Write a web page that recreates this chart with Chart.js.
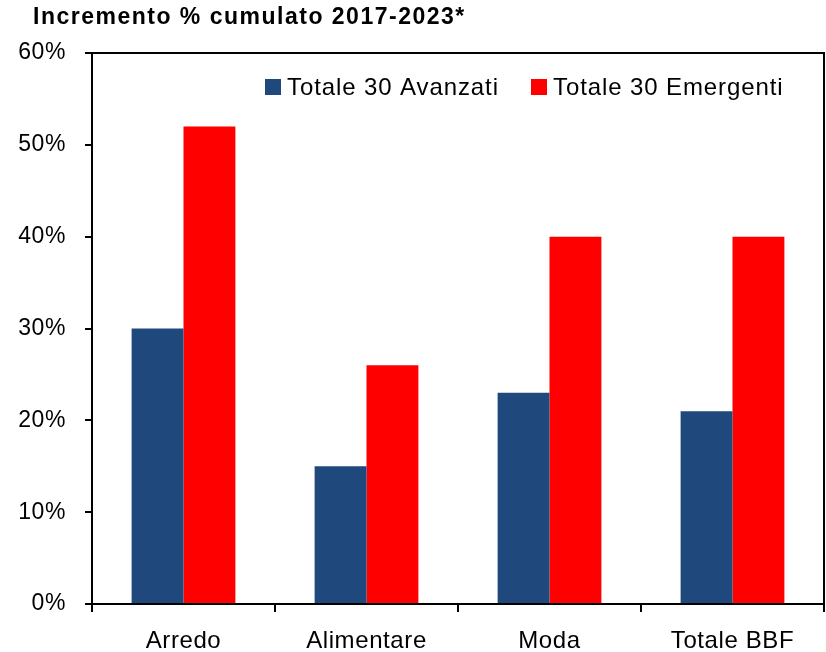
<!DOCTYPE html>
<html>
<head>
<meta charset="utf-8">
<script src="https://cdn.jsdelivr.net/npm/chart.js@4.4.1/dist/chart.umd.min.js"></script>
<style>
  html, body { margin: 0; padding: 0; background: #fff; }
  #wrap { width: 826px; height: 652px; }
</style>
</head>
<body>
<div id="wrap"><canvas id="chart" width="826" height="652"></canvas></div>
<script>
// data
var categories = ['Arredo', 'Alimentare', 'Moda', 'Totale BBF'];
var avanzati = [30, 15, 23, 21];
var emergenti = [52, 26, 40, 40];
var seriesNames = ['Totale 30 Avanzati', 'Totale 30 Emergenti'];
var seriesColors = ['#1f497d', '#ff0000'];
var titleText = 'Incremento % cumulato 2017-2023*';

var FONT = "'Liberation Sans', Arial, sans-serif";

// slightly wider letters, like the original export
var spacing = {
  id: 'spacing',
  beforeInit: function (chart) { chart.ctx.letterSpacing = '0.6px'; },
  beforeDraw: function (chart) { chart.ctx.letterSpacing = '0.6px'; }
};

// title, frame and in-plot legend
var extras = {
  id: 'extras',
  afterDraw: function (chart) {
    var ctx = chart.ctx, a = chart.chartArea;
    ctx.save();
    // top + right border of the plot box
    ctx.strokeStyle = '#000';
    ctx.lineWidth = 2;
    ctx.beginPath();
    ctx.moveTo(a.left, a.top);
    ctx.lineTo(a.right, a.top);
    ctx.lineTo(a.right, a.bottom);
    ctx.stroke();
    // title
    ctx.fillStyle = '#000';
    ctx.font = 'bold 23px ' + FONT;
    ctx.letterSpacing = '1.5px';
    ctx.textAlign = 'left';
    ctx.textBaseline = 'alphabetic';
    ctx.fillText(titleText, 33, 24);
    // legend
    var items = chart.data.datasets;
    var xs = [265, 531];
    ctx.font = '24px ' + FONT;
    ctx.letterSpacing = '0.9px';
    for (var i = 0; i < items.length; i++) {
      ctx.fillStyle = items[i].backgroundColor;
      ctx.fillRect(xs[i], 79, 16, 16);
      ctx.fillStyle = '#000';
      ctx.fillText(items[i].label, xs[i] + 22, 95);
    }
    ctx.restore();
  }
};

new Chart(document.getElementById('chart'), {
  type: 'bar',
  data: {
    labels: categories,
    datasets: [
      { label: seriesNames[0], data: avanzati, backgroundColor: seriesColors[0] },
      { label: seriesNames[1], data: emergenti, backgroundColor: seriesColors[1] }
    ]
  },
  options: {
    responsive: false,
    animation: false,
    devicePixelRatio: 1,
    layout: { padding: { top: 53, right: 2, left: 0, bottom: 0 } },
    datasets: { bar: { categoryPercentage: 0.567, barPercentage: 1.0 } },
    plugins: {
      legend: { display: false },
      title: { display: false },
      tooltip: { enabled: false }
    },
    scales: {
      x: {
        afterFit: function (s) { s.height = 48; },
        grid: { offset: true, drawOnChartArea: false, drawTicks: true, tickLength: 8, color: '#000', lineWidth: 2 },
        border: { display: true, color: '#000', width: 2 },
        ticks: { color: '#000', font: { family: FONT, size: 24 }, padding: 15, maxRotation: 0, autoSkip: false }
      },
      y: {
        min: 0,
        max: 60,
        afterFit: function (s) { s.width = 92; },
        grid: { drawOnChartArea: false, drawTicks: true, tickLength: 7, color: '#000', lineWidth: 2 },
        border: { display: true, color: '#000', width: 2 },
        ticks: {
          stepSize: 10,
          color: '#000',
          font: { family: FONT, size: 23 },
          padding: 19,
          callback: function (v) { return v + '%'; }
        }
      }
    }
  },
  plugins: [spacing, extras]
});
</script>
</body>
</html>
